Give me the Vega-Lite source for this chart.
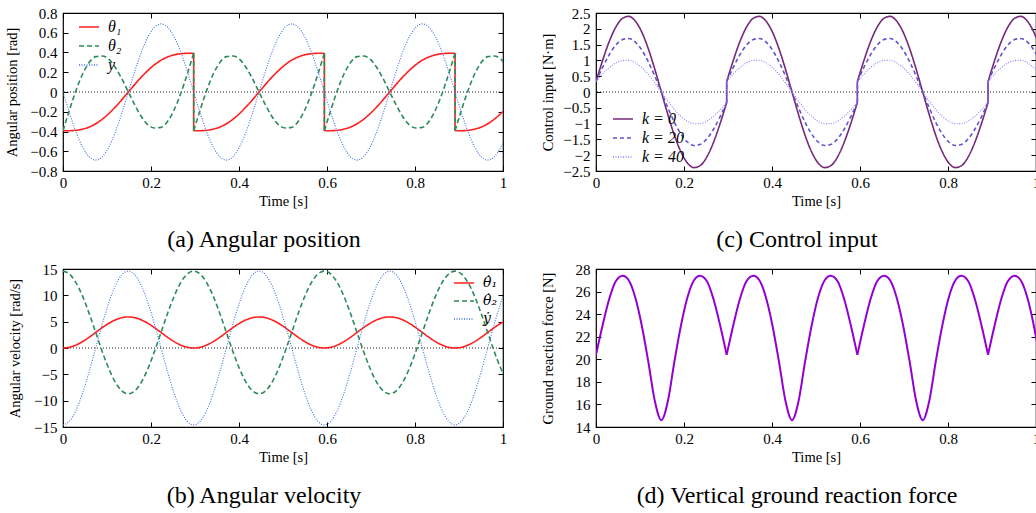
{
"$schema": "https://vega.github.io/schema/vega-lite/v6.json",
"padding": {"left": 3, "top": 5, "right": 0, "bottom": 0},
"background": "white",
"columns": 2,
"bounds": "flush",
"spacing": {"row": 98, "column": 93},
"resolve": {"scale": {"color": "independent", "strokeDash": "independent"}, "legend": {"color": "independent", "strokeDash": "independent"}},
"config": {
  "font": "Liberation Serif",
  "view": {"stroke": "black", "strokeWidth": 1.2},
  "axis": {"domain": false, "grid": false, "ticks": true, "tickSize": -5, "tickColor": "black", "tickWidth": 1,
           "labelFont": "Liberation Serif", "labelFontSize": 15, "labelColor": "black",
           "titleFont": "Liberation Serif", "titleFontSize": 14.5, "titleFontWeight": "normal", "titleColor": "black",
           "labelFlush": false, "labelOverlap": false},
  "axisX": {"labelPadding": 9, "titlePadding": 4},
  "axisY": {"labelPadding": 11, "titleBaseline": "middle"},
  "title": {"orient": "bottom", "font": "Liberation Serif", "fontSize": 24, "fontWeight": "normal", "color": "black", "offset": 20, "anchor": "middle", "dx": -19},
  "legend": {"title": null, "symbolType": "stroke", "symbolSize": 400, "symbolStrokeWidth": 1.5, "labelFont": "Liberation Serif", "labelFontSize": 16, "labelColor": "black", "labelOffset": 8, "rowPadding": 0, "padding": 0}
},
"datasets": {
"pa": [
{"t":0,"g":"p0","s1":-0.393,"s2":-0.393,"s3":0},
{"t":0.0149,"g":"p0","s1":-0.392,"s2":-0.179,"s3":-0.213},
{"t":0.0297,"g":"p0","s1":-0.388,"s2":0.018,"s3":-0.406},
{"t":0.0446,"g":"p0","s1":-0.376,"s2":0.182,"s3":-0.558},
{"t":0.0594,"g":"p0","s1":-0.355,"s2":0.298,"s3":-0.656},
{"t":0.0743,"g":"p0","s1":-0.322,"s2":0.358,"s3":-0.69},
{"t":0.0891,"g":"p0","s1":-0.276,"s2":0.364,"s3":-0.656},
{"t":0.104,"g":"p0","s1":-0.219,"s2":0.332,"s3":-0.558},
{"t":0.1188,"g":"p0","s1":-0.152,"s2":0.25,"s3":-0.406},
{"t":0.1337,"g":"p0","s1":-0.078,"s2":0.133,"s3":-0.213},
{"t":0.1485,"g":"p0","s1":0,"s2":0,"s3":0},
{"t":0.1634,"g":"p0","s1":0.078,"s2":-0.133,"s3":0.213},
{"t":0.1782,"g":"p0","s1":0.152,"s2":-0.25,"s3":0.406},
{"t":0.1931,"g":"p0","s1":0.219,"s2":-0.332,"s3":0.558},
{"t":0.2079,"g":"p0","s1":0.276,"s2":-0.364,"s3":0.656},
{"t":0.2228,"g":"p0","s1":0.322,"s2":-0.358,"s3":0.69},
{"t":0.2376,"g":"p0","s1":0.355,"s2":-0.298,"s3":0.656},
{"t":0.2525,"g":"p0","s1":0.376,"s2":-0.182,"s3":0.558},
{"t":0.2673,"g":"p0","s1":0.388,"s2":-0.018,"s3":0.406},
{"t":0.2822,"g":"p0","s1":0.392,"s2":0.179,"s3":0.213},
{"t":0.297,"g":"p0","s1":0.393,"s2":0.393,"s3":0},
{"t":0.297,"g":"j1","s1":0.393,"s2":0.393},
{"t":0.297,"g":"j1","s1":-0.393,"s2":-0.393},
{"t":0.297,"g":"p1","s1":-0.393,"s2":-0.393,"s3":0},
{"t":0.3119,"g":"p1","s1":-0.392,"s2":-0.179,"s3":-0.213},
{"t":0.3267,"g":"p1","s1":-0.388,"s2":0.018,"s3":-0.406},
{"t":0.3416,"g":"p1","s1":-0.376,"s2":0.182,"s3":-0.558},
{"t":0.3564,"g":"p1","s1":-0.355,"s2":0.298,"s3":-0.656},
{"t":0.3713,"g":"p1","s1":-0.322,"s2":0.358,"s3":-0.69},
{"t":0.3861,"g":"p1","s1":-0.276,"s2":0.364,"s3":-0.656},
{"t":0.401,"g":"p1","s1":-0.219,"s2":0.332,"s3":-0.558},
{"t":0.4158,"g":"p1","s1":-0.152,"s2":0.25,"s3":-0.406},
{"t":0.4307,"g":"p1","s1":-0.078,"s2":0.133,"s3":-0.213},
{"t":0.4455,"g":"p1","s1":0,"s2":0,"s3":0},
{"t":0.4604,"g":"p1","s1":0.078,"s2":-0.133,"s3":0.213},
{"t":0.4752,"g":"p1","s1":0.152,"s2":-0.25,"s3":0.406},
{"t":0.4901,"g":"p1","s1":0.219,"s2":-0.332,"s3":0.558},
{"t":0.5049,"g":"p1","s1":0.276,"s2":-0.364,"s3":0.656},
{"t":0.5198,"g":"p1","s1":0.322,"s2":-0.358,"s3":0.69},
{"t":0.5346,"g":"p1","s1":0.355,"s2":-0.298,"s3":0.656},
{"t":0.5495,"g":"p1","s1":0.376,"s2":-0.182,"s3":0.558},
{"t":0.5643,"g":"p1","s1":0.388,"s2":-0.018,"s3":0.406},
{"t":0.5792,"g":"p1","s1":0.392,"s2":0.179,"s3":0.213},
{"t":0.594,"g":"p1","s1":0.393,"s2":0.393,"s3":0},
{"t":0.594,"g":"j2","s1":0.393,"s2":0.393},
{"t":0.594,"g":"j2","s1":-0.393,"s2":-0.393},
{"t":0.594,"g":"p2","s1":-0.393,"s2":-0.393,"s3":0},
{"t":0.6089,"g":"p2","s1":-0.392,"s2":-0.179,"s3":-0.213},
{"t":0.6237,"g":"p2","s1":-0.388,"s2":0.018,"s3":-0.406},
{"t":0.6386,"g":"p2","s1":-0.376,"s2":0.182,"s3":-0.558},
{"t":0.6534,"g":"p2","s1":-0.355,"s2":0.298,"s3":-0.656},
{"t":0.6683,"g":"p2","s1":-0.322,"s2":0.358,"s3":-0.69},
{"t":0.6831,"g":"p2","s1":-0.276,"s2":0.364,"s3":-0.656},
{"t":0.698,"g":"p2","s1":-0.219,"s2":0.332,"s3":-0.558},
{"t":0.7128,"g":"p2","s1":-0.152,"s2":0.25,"s3":-0.406},
{"t":0.7277,"g":"p2","s1":-0.078,"s2":0.133,"s3":-0.213},
{"t":0.7425,"g":"p2","s1":0,"s2":0,"s3":0},
{"t":0.7574,"g":"p2","s1":0.078,"s2":-0.133,"s3":0.213},
{"t":0.7722,"g":"p2","s1":0.152,"s2":-0.25,"s3":0.406},
{"t":0.7871,"g":"p2","s1":0.219,"s2":-0.332,"s3":0.558},
{"t":0.8019,"g":"p2","s1":0.276,"s2":-0.364,"s3":0.656},
{"t":0.8168,"g":"p2","s1":0.322,"s2":-0.358,"s3":0.69},
{"t":0.8316,"g":"p2","s1":0.355,"s2":-0.298,"s3":0.656},
{"t":0.8465,"g":"p2","s1":0.376,"s2":-0.182,"s3":0.558},
{"t":0.8613,"g":"p2","s1":0.388,"s2":-0.018,"s3":0.406},
{"t":0.8762,"g":"p2","s1":0.392,"s2":0.179,"s3":0.213},
{"t":0.891,"g":"p2","s1":0.393,"s2":0.393,"s3":0},
{"t":0.891,"g":"j3","s1":0.393,"s2":0.393},
{"t":0.891,"g":"j3","s1":-0.393,"s2":-0.393},
{"t":0.891,"g":"p3","s1":-0.393,"s2":-0.393,"s3":0},
{"t":0.9059,"g":"p3","s1":-0.392,"s2":-0.179,"s3":-0.213},
{"t":0.9207,"g":"p3","s1":-0.388,"s2":0.018,"s3":-0.406},
{"t":0.9356,"g":"p3","s1":-0.376,"s2":0.182,"s3":-0.558},
{"t":0.9504,"g":"p3","s1":-0.355,"s2":0.298,"s3":-0.656},
{"t":0.9653,"g":"p3","s1":-0.322,"s2":0.358,"s3":-0.69},
{"t":0.9801,"g":"p3","s1":-0.276,"s2":0.364,"s3":-0.656},
{"t":0.995,"g":"p3","s1":-0.219,"s2":0.332,"s3":-0.558},
{"t":1.0098,"g":"p3","s1":-0.152,"s2":0.25,"s3":-0.406}
],
"pb": [
{"t":0,"s1":0,"s2":14.6,"s3":-14.6},
{"t":0.0149,"s1":0.144,"s2":14.03,"s3":-13.89},
{"t":0.0297,"s1":0.563,"s2":12.38,"s3":-11.81},
{"t":0.0446,"s1":1.216,"s2":9.8,"s3":-8.58},
{"t":0.0594,"s1":2.038,"s2":6.55,"s3":-4.51},
{"t":0.0743,"s1":2.95,"s2":2.95,"s3":0},
{"t":0.0891,"s1":3.862,"s2":-0.65,"s3":4.51},
{"t":0.104,"s1":4.684,"s2":-3.9,"s3":8.58},
{"t":0.1188,"s1":5.337,"s2":-6.48,"s3":11.81},
{"t":0.1337,"s1":5.756,"s2":-8.13,"s3":13.89},
{"t":0.1485,"s1":5.9,"s2":-8.7,"s3":14.6},
{"t":0.1634,"s1":5.756,"s2":-8.13,"s3":13.89},
{"t":0.1782,"s1":5.337,"s2":-6.48,"s3":11.81},
{"t":0.1931,"s1":4.684,"s2":-3.9,"s3":8.58},
{"t":0.2079,"s1":3.862,"s2":-0.65,"s3":4.51},
{"t":0.2228,"s1":2.95,"s2":2.95,"s3":0},
{"t":0.2376,"s1":2.038,"s2":6.55,"s3":-4.51},
{"t":0.2525,"s1":1.216,"s2":9.8,"s3":-8.58},
{"t":0.2673,"s1":0.563,"s2":12.38,"s3":-11.81},
{"t":0.2822,"s1":0.144,"s2":14.03,"s3":-13.89},
{"t":0.297,"s1":0,"s2":14.6,"s3":-14.6},
{"t":0.3119,"s1":0.144,"s2":14.03,"s3":-13.89},
{"t":0.3267,"s1":0.563,"s2":12.38,"s3":-11.81},
{"t":0.3416,"s1":1.216,"s2":9.8,"s3":-8.58},
{"t":0.3564,"s1":2.038,"s2":6.55,"s3":-4.51},
{"t":0.3713,"s1":2.95,"s2":2.95,"s3":0},
{"t":0.3861,"s1":3.862,"s2":-0.65,"s3":4.51},
{"t":0.401,"s1":4.684,"s2":-3.9,"s3":8.58},
{"t":0.4158,"s1":5.337,"s2":-6.48,"s3":11.81},
{"t":0.4307,"s1":5.756,"s2":-8.13,"s3":13.89},
{"t":0.4455,"s1":5.9,"s2":-8.7,"s3":14.6},
{"t":0.4604,"s1":5.756,"s2":-8.13,"s3":13.89},
{"t":0.4752,"s1":5.337,"s2":-6.48,"s3":11.81},
{"t":0.4901,"s1":4.684,"s2":-3.9,"s3":8.58},
{"t":0.5049,"s1":3.862,"s2":-0.65,"s3":4.51},
{"t":0.5198,"s1":2.95,"s2":2.95,"s3":0},
{"t":0.5346,"s1":2.038,"s2":6.55,"s3":-4.51},
{"t":0.5495,"s1":1.216,"s2":9.8,"s3":-8.58},
{"t":0.5643,"s1":0.563,"s2":12.38,"s3":-11.81},
{"t":0.5792,"s1":0.144,"s2":14.03,"s3":-13.89},
{"t":0.594,"s1":0,"s2":14.6,"s3":-14.6},
{"t":0.6089,"s1":0.144,"s2":14.03,"s3":-13.89},
{"t":0.6237,"s1":0.563,"s2":12.38,"s3":-11.81},
{"t":0.6386,"s1":1.216,"s2":9.8,"s3":-8.58},
{"t":0.6534,"s1":2.038,"s2":6.55,"s3":-4.51},
{"t":0.6683,"s1":2.95,"s2":2.95,"s3":0},
{"t":0.6831,"s1":3.862,"s2":-0.65,"s3":4.51},
{"t":0.698,"s1":4.684,"s2":-3.9,"s3":8.58},
{"t":0.7128,"s1":5.337,"s2":-6.48,"s3":11.81},
{"t":0.7277,"s1":5.756,"s2":-8.13,"s3":13.89},
{"t":0.7425,"s1":5.9,"s2":-8.7,"s3":14.6},
{"t":0.7574,"s1":5.756,"s2":-8.13,"s3":13.89},
{"t":0.7722,"s1":5.337,"s2":-6.48,"s3":11.81},
{"t":0.7871,"s1":4.684,"s2":-3.9,"s3":8.58},
{"t":0.8019,"s1":3.862,"s2":-0.65,"s3":4.51},
{"t":0.8168,"s1":2.95,"s2":2.95,"s3":0},
{"t":0.8316,"s1":2.038,"s2":6.55,"s3":-4.51},
{"t":0.8465,"s1":1.216,"s2":9.8,"s3":-8.58},
{"t":0.8613,"s1":0.563,"s2":12.38,"s3":-11.81},
{"t":0.8762,"s1":0.144,"s2":14.03,"s3":-13.89},
{"t":0.891,"s1":0,"s2":14.6,"s3":-14.6},
{"t":0.9059,"s1":0.144,"s2":14.03,"s3":-13.89},
{"t":0.9207,"s1":0.563,"s2":12.38,"s3":-11.81},
{"t":0.9356,"s1":1.216,"s2":9.8,"s3":-8.58},
{"t":0.9504,"s1":2.038,"s2":6.55,"s3":-4.51},
{"t":0.9653,"s1":2.95,"s2":2.95,"s3":0},
{"t":0.9801,"s1":3.862,"s2":-0.65,"s3":4.51},
{"t":0.995,"s1":4.684,"s2":-3.9,"s3":8.58},
{"t":1.0098,"s1":5.337,"s2":-6.48,"s3":11.81}
],
"pc": [
{"t":0,"g":"p0","s1":0.33,"s2":0.33,"s3":0.33},
{"t":0.0149,"g":"p0","s1":0.993,"s2":0.777,"s3":0.564},
{"t":0.0297,"g":"p0","s1":1.584,"s2":1.172,"s3":0.767},
{"t":0.0446,"g":"p0","s1":2.041,"s2":1.475,"s3":0.917},
{"t":0.0594,"g":"p0","s1":2.321,"s2":1.656,"s3":0.999},
{"t":0.0743,"g":"p0","s1":2.393,"s2":1.693,"s3":1.003},
{"t":0.0891,"g":"p0","s1":2.248,"s2":1.583,"s3":0.926},
{"t":0.104,"g":"p0","s1":1.897,"s2":1.331,"s3":0.773},
{"t":0.1188,"g":"p0","s1":1.372,"s2":0.96,"s3":0.555},
{"t":0.1337,"g":"p0","s1":0.719,"s2":0.503,"s3":0.29},
{"t":0.1485,"g":"p0","s1":0,"s2":0,"s3":0},
{"t":0.1634,"g":"p0","s1":-0.719,"s2":-0.503,"s3":-0.29},
{"t":0.1782,"g":"p0","s1":-1.372,"s2":-0.96,"s3":-0.555},
{"t":0.1931,"g":"p0","s1":-1.897,"s2":-1.331,"s3":-0.773},
{"t":0.2079,"g":"p0","s1":-2.248,"s2":-1.583,"s3":-0.926},
{"t":0.2228,"g":"p0","s1":-2.393,"s2":-1.693,"s3":-1.003},
{"t":0.2376,"g":"p0","s1":-2.321,"s2":-1.656,"s3":-0.999},
{"t":0.2525,"g":"p0","s1":-2.041,"s2":-1.475,"s3":-0.917},
{"t":0.2673,"g":"p0","s1":-1.584,"s2":-1.172,"s3":-0.767},
{"t":0.2822,"g":"p0","s1":-0.993,"s2":-0.777,"s3":-0.564},
{"t":0.297,"g":"p0","s1":-0.33,"s2":-0.33,"s3":-0.33},
{"t":0.297,"g":"j1","s1":-0.33,"s2":-0.33,"s3":-0.33},
{"t":0.297,"g":"j1","s1":0.33,"s2":0.33,"s3":0.33},
{"t":0.297,"g":"p1","s1":0.33,"s2":0.33,"s3":0.33},
{"t":0.3119,"g":"p1","s1":0.993,"s2":0.777,"s3":0.564},
{"t":0.3267,"g":"p1","s1":1.584,"s2":1.172,"s3":0.767},
{"t":0.3416,"g":"p1","s1":2.041,"s2":1.475,"s3":0.917},
{"t":0.3564,"g":"p1","s1":2.321,"s2":1.656,"s3":0.999},
{"t":0.3713,"g":"p1","s1":2.393,"s2":1.693,"s3":1.003},
{"t":0.3861,"g":"p1","s1":2.248,"s2":1.583,"s3":0.926},
{"t":0.401,"g":"p1","s1":1.897,"s2":1.331,"s3":0.773},
{"t":0.4158,"g":"p1","s1":1.372,"s2":0.96,"s3":0.555},
{"t":0.4307,"g":"p1","s1":0.719,"s2":0.503,"s3":0.29},
{"t":0.4455,"g":"p1","s1":0,"s2":0,"s3":0},
{"t":0.4604,"g":"p1","s1":-0.719,"s2":-0.503,"s3":-0.29},
{"t":0.4752,"g":"p1","s1":-1.372,"s2":-0.96,"s3":-0.555},
{"t":0.4901,"g":"p1","s1":-1.897,"s2":-1.331,"s3":-0.773},
{"t":0.5049,"g":"p1","s1":-2.248,"s2":-1.583,"s3":-0.926},
{"t":0.5198,"g":"p1","s1":-2.393,"s2":-1.693,"s3":-1.003},
{"t":0.5346,"g":"p1","s1":-2.321,"s2":-1.656,"s3":-0.999},
{"t":0.5495,"g":"p1","s1":-2.041,"s2":-1.475,"s3":-0.917},
{"t":0.5643,"g":"p1","s1":-1.584,"s2":-1.172,"s3":-0.767},
{"t":0.5792,"g":"p1","s1":-0.993,"s2":-0.777,"s3":-0.564},
{"t":0.594,"g":"p1","s1":-0.33,"s2":-0.33,"s3":-0.33},
{"t":0.594,"g":"j2","s1":-0.33,"s2":-0.33,"s3":-0.33},
{"t":0.594,"g":"j2","s1":0.33,"s2":0.33,"s3":0.33},
{"t":0.594,"g":"p2","s1":0.33,"s2":0.33,"s3":0.33},
{"t":0.6089,"g":"p2","s1":0.993,"s2":0.777,"s3":0.564},
{"t":0.6237,"g":"p2","s1":1.584,"s2":1.172,"s3":0.767},
{"t":0.6386,"g":"p2","s1":2.041,"s2":1.475,"s3":0.917},
{"t":0.6534,"g":"p2","s1":2.321,"s2":1.656,"s3":0.999},
{"t":0.6683,"g":"p2","s1":2.393,"s2":1.693,"s3":1.003},
{"t":0.6831,"g":"p2","s1":2.248,"s2":1.583,"s3":0.926},
{"t":0.698,"g":"p2","s1":1.897,"s2":1.331,"s3":0.773},
{"t":0.7128,"g":"p2","s1":1.372,"s2":0.96,"s3":0.555},
{"t":0.7277,"g":"p2","s1":0.719,"s2":0.503,"s3":0.29},
{"t":0.7425,"g":"p2","s1":0,"s2":0,"s3":0},
{"t":0.7574,"g":"p2","s1":-0.719,"s2":-0.503,"s3":-0.29},
{"t":0.7722,"g":"p2","s1":-1.372,"s2":-0.96,"s3":-0.555},
{"t":0.7871,"g":"p2","s1":-1.897,"s2":-1.331,"s3":-0.773},
{"t":0.8019,"g":"p2","s1":-2.248,"s2":-1.583,"s3":-0.926},
{"t":0.8168,"g":"p2","s1":-2.393,"s2":-1.693,"s3":-1.003},
{"t":0.8316,"g":"p2","s1":-2.321,"s2":-1.656,"s3":-0.999},
{"t":0.8465,"g":"p2","s1":-2.041,"s2":-1.475,"s3":-0.917},
{"t":0.8613,"g":"p2","s1":-1.584,"s2":-1.172,"s3":-0.767},
{"t":0.8762,"g":"p2","s1":-0.993,"s2":-0.777,"s3":-0.564},
{"t":0.891,"g":"p2","s1":-0.33,"s2":-0.33,"s3":-0.33},
{"t":0.891,"g":"j3","s1":-0.33,"s2":-0.33,"s3":-0.33},
{"t":0.891,"g":"j3","s1":0.33,"s2":0.33,"s3":0.33},
{"t":0.891,"g":"p3","s1":0.33,"s2":0.33,"s3":0.33},
{"t":0.9059,"g":"p3","s1":0.993,"s2":0.777,"s3":0.564},
{"t":0.9207,"g":"p3","s1":1.584,"s2":1.172,"s3":0.767},
{"t":0.9356,"g":"p3","s1":2.041,"s2":1.475,"s3":0.917},
{"t":0.9504,"g":"p3","s1":2.321,"s2":1.656,"s3":0.999},
{"t":0.9653,"g":"p3","s1":2.393,"s2":1.693,"s3":1.003},
{"t":0.9801,"g":"p3","s1":2.248,"s2":1.583,"s3":0.926},
{"t":0.995,"g":"p3","s1":1.897,"s2":1.331,"s3":0.773},
{"t":1.0098,"g":"p3","s1":1.372,"s2":0.96,"s3":0.555}
],
"pd": [
{"t":0,"g":"p0","f":20.4},{"t":0.0149,"g":"p0","f":23.0},{"t":0.0297,"g":"p0","f":25.3},{"t":0.0446,"g":"p0","f":26.9},{"t":0.0609,"g":"p0","f":27.4},{"t":0.0743,"g":"p0","f":27.0},{"t":0.0891,"g":"p0","f":25.5},{"t":0.104,"g":"p0","f":23.0},{"t":0.1188,"g":"p0","f":19.8},{"t":0.1337,"g":"p0","f":16.3},{"t":0.1485,"g":"p0","f":14.6},{"t":0.1634,"g":"p0","f":16.3},{"t":0.1782,"g":"p0","f":19.8},{"t":0.1931,"g":"p0","f":23.0},{"t":0.2079,"g":"p0","f":25.5},{"t":0.2228,"g":"p0","f":27.0},{"t":0.2361,"g":"p0","f":27.4},{"t":0.2525,"g":"p0","f":26.9},{"t":0.2673,"g":"p0","f":25.3},{"t":0.2822,"g":"p0","f":23.0},{"t":0.297,"g":"p0","f":20.4},
{"t":0.297,"g":"p1","f":20.4},{"t":0.3119,"g":"p1","f":23.0},{"t":0.3267,"g":"p1","f":25.3},{"t":0.3416,"g":"p1","f":26.9},{"t":0.3579,"g":"p1","f":27.4},{"t":0.3713,"g":"p1","f":27.0},{"t":0.3861,"g":"p1","f":25.5},{"t":0.401,"g":"p1","f":23.0},{"t":0.4158,"g":"p1","f":19.8},{"t":0.4307,"g":"p1","f":16.3},{"t":0.4455,"g":"p1","f":14.6},{"t":0.4604,"g":"p1","f":16.3},{"t":0.4752,"g":"p1","f":19.8},{"t":0.4901,"g":"p1","f":23.0},{"t":0.5049,"g":"p1","f":25.5},{"t":0.5198,"g":"p1","f":27.0},{"t":0.5331,"g":"p1","f":27.4},{"t":0.5495,"g":"p1","f":26.9},{"t":0.5643,"g":"p1","f":25.3},{"t":0.5792,"g":"p1","f":23.0},{"t":0.594,"g":"p1","f":20.4},
{"t":0.594,"g":"p2","f":20.4},{"t":0.6089,"g":"p2","f":23.0},{"t":0.6237,"g":"p2","f":25.3},{"t":0.6386,"g":"p2","f":26.9},{"t":0.6549,"g":"p2","f":27.4},{"t":0.6683,"g":"p2","f":27.0},{"t":0.6831,"g":"p2","f":25.5},{"t":0.698,"g":"p2","f":23.0},{"t":0.7128,"g":"p2","f":19.8},{"t":0.7277,"g":"p2","f":16.3},{"t":0.7425,"g":"p2","f":14.6},{"t":0.7574,"g":"p2","f":16.3},{"t":0.7722,"g":"p2","f":19.8},{"t":0.7871,"g":"p2","f":23.0},{"t":0.8019,"g":"p2","f":25.5},{"t":0.8168,"g":"p2","f":27.0},{"t":0.8301,"g":"p2","f":27.4},{"t":0.8465,"g":"p2","f":26.9},{"t":0.8613,"g":"p2","f":25.3},{"t":0.8762,"g":"p2","f":23.0},{"t":0.891,"g":"p2","f":20.4},
{"t":0.891,"g":"p3","f":20.4},{"t":0.9059,"g":"p3","f":23.0},{"t":0.9207,"g":"p3","f":25.3},{"t":0.9356,"g":"p3","f":26.9},{"t":0.9519,"g":"p3","f":27.4},{"t":0.9653,"g":"p3","f":27.0},{"t":0.9801,"g":"p3","f":25.5},{"t":0.995,"g":"p3","f":23.0},{"t":1.0098,"g":"p3","f":19.8}
]
},
"concat": [
{
 "width": 440, "height": 158,
 "title": {"text": "(a) Angular position"},
 "layer": [
  {"data": {"values": [{}]}, "mark": {"type": "rule", "color": "black", "strokeDash": [1, 2], "strokeWidth": 0.9},
   "encoding": {"y": {"datum": 0, "type": "quantitative", "axis": null}}},
  {"data": {"name": "pa"},
   "transform": [{"fold": ["s1", "s2", "s3"], "as": ["s", "v"]}, {"filter": "isValid(datum.v)"}],
   "mark": {"type": "line", "interpolate": "monotone", "clip": true},
   "encoding": {
    "x": {"field": "t", "type": "quantitative", "scale": {"domain": [0, 1], "nice": false, "zero": false},
          "axis": {"orient": "bottom", "values": [0, 0.2, 0.4, 0.6, 0.8, 1], "format": "~g", "title": "Time [s]"}},
    "y": {"field": "v", "type": "quantitative", "scale": {"domain": [-0.8, 0.8], "nice": false},
          "axis": {"orient": "left", "values": [-0.8, -0.6, -0.4, -0.2, 0, 0.2, 0.4, 0.6, 0.8], "format": "~g", "title": "Angular position [rad]", "titleX": -51}},
    "detail": {"field": "g"},
    "color": {"field": "s", "type": "nominal", "scale": {"domain": ["s1", "s2", "s3"], "range": ["#ff1f1f", "#2e8b57", "#3f6fe6"]},
              "legend": {"orient": "none", "legendX": 15, "legendY": 3, "labelFontStyle": "italic", "labelExpr": "datum.label == 's1' ? 'θ₁' : datum.label == 's2' ? 'θ₂' : 'y'"}},
    "strokeDash": {"field": "s", "type": "nominal", "scale": {"domain": ["s1", "s2", "s3"], "range": [[1, 0], [5, 3], [1, 1.5]]},
              "legend": {"orient": "none", "legendX": 15, "legendY": 3, "labelFontStyle": "italic", "labelExpr": "datum.label == 's1' ? 'θ₁' : datum.label == 's2' ? 'θ₂' : 'y'"}},
    "strokeWidth": {"condition": {"test": "datum.s == 's3'", "value": 1.1}, "value": 1.6}
   }},
  {"data": {"values": [{}]}, "mark": {"type": "point", "opacity": 0},
   "encoding": {
    "x": {"datum": 0, "type": "quantitative", "axis": {"orient": "top", "labels": false, "title": null, "values": [0, 0.2, 0.4, 0.6, 0.8, 1]}},
    "y": {"datum": 0, "type": "quantitative", "axis": {"orient": "right", "labels": false, "title": null, "values": [-0.8, -0.6, -0.4, -0.2, 0, 0.2, 0.4, 0.6, 0.8]}}
   }}
 ],
 "resolve": {"axis": {"x": "independent", "y": "independent"}}
},
{
 "width": 440, "height": 158,
 "title": {"text": "(c) Control input"},
 "layer": [
  {"data": {"values": [{}]}, "mark": {"type": "rule", "color": "black", "strokeDash": [1, 2], "strokeWidth": 0.9},
   "encoding": {"y": {"datum": 0, "type": "quantitative", "axis": null}}},
  {"data": {"name": "pc"},
   "transform": [{"fold": ["s1", "s2", "s3"], "as": ["s", "v"]}, {"filter": "isValid(datum.v)"}],
   "mark": {"type": "line", "interpolate": "monotone", "clip": true},
   "encoding": {
    "x": {"field": "t", "type": "quantitative", "scale": {"domain": [0, 1], "nice": false, "zero": false},
          "axis": {"orient": "bottom", "values": [0, 0.2, 0.4, 0.6, 0.8, 1], "format": "~g", "title": "Time [s]"}},
    "y": {"field": "v", "type": "quantitative", "scale": {"domain": [-2.5, 2.5], "nice": false},
          "axis": {"orient": "left", "values": [-2.5, -2, -1.5, -1, -0.5, 0, 0.5, 1, 1.5, 2, 2.5], "format": "~g", "title": "Control input [N·m]", "titleX": -48}},
    "detail": {"field": "g"},
    "color": {"field": "s", "type": "nominal", "scale": {"domain": ["s1", "s2", "s3"], "range": ["#76287a", "#6652cc", "#8a80ff"]},
              "legend": {"orient": "none", "legendX": 16, "legendY": 95, "labelFontStyle": "italic", "labelExpr": "datum.label == 's1' ? 'k = 0' : datum.label == 's2' ? 'k = 20' : 'k = 40'"}},
    "strokeDash": {"field": "s", "type": "nominal", "scale": {"domain": ["s1", "s2", "s3"], "range": [[1, 0], [4, 3], [1, 1.5]]},
              "legend": {"orient": "none", "legendX": 16, "legendY": 95, "labelFontStyle": "italic", "labelExpr": "datum.label == 's1' ? 'k = 0' : datum.label == 's2' ? 'k = 20' : 'k = 40'"}},
    "strokeWidth": {"condition": {"test": "datum.s == 's3'", "value": 1.1}, "value": 1.6}
   }},
  {"data": {"values": [{}]}, "mark": {"type": "point", "opacity": 0},
   "encoding": {
    "x": {"datum": 0, "type": "quantitative", "axis": {"orient": "top", "labels": false, "title": null, "values": [0, 0.2, 0.4, 0.6, 0.8, 1]}},
    "y": {"datum": 0, "type": "quantitative", "axis": {"orient": "right", "labels": false, "title": null, "values": [-2.5, -2, -1.5, -1, -0.5, 0, 0.5, 1, 1.5, 2, 2.5]}}
   }}
 ],
 "resolve": {"axis": {"x": "independent", "y": "independent"}}
},
{
 "width": 440, "height": 158,
 "title": {"text": "(b) Angular velocity"},
 "layer": [
  {"data": {"values": [{}]}, "mark": {"type": "rule", "color": "black", "strokeDash": [1, 2], "strokeWidth": 0.9},
   "encoding": {"y": {"datum": 0, "type": "quantitative", "axis": null}}},
  {"data": {"name": "pb"},
   "transform": [{"fold": ["s1", "s2", "s3"], "as": ["s", "v"]}, {"filter": "isValid(datum.v)"}],
   "mark": {"type": "line", "interpolate": "monotone", "clip": true},
   "encoding": {
    "x": {"field": "t", "type": "quantitative", "scale": {"domain": [0, 1], "nice": false, "zero": false},
          "axis": {"orient": "bottom", "values": [0, 0.2, 0.4, 0.6, 0.8, 1], "format": "~g", "title": "Time [s]"}},
    "y": {"field": "v", "type": "quantitative", "scale": {"domain": [-15, 15], "nice": false},
          "axis": {"orient": "left", "values": [-15, -10, -5, 0, 5, 10, 15], "format": "~g", "title": "Angular velocity [rad/s]", "titleX": -48}},
    "color": {"field": "s", "type": "nominal", "scale": {"domain": ["s1", "s2", "s3"], "range": ["#ff1f1f", "#2e8b57", "#3f6fe6"]},
              "legend": {"orient": "none", "legendX": 390, "legendY": 3, "labelFont": "DejaVu Serif", "labelFontSize": 14, "labelFontStyle": "italic", "labelExpr": "datum.label == 's1' ? '\u03b8\u0307\u2081' : datum.label == 's2' ? '\u03b8\u0307\u2082' : '\u1e8f'"}},
    "strokeDash": {"field": "s", "type": "nominal", "scale": {"domain": ["s1", "s2", "s3"], "range": [[1, 0], [5, 3], [1, 1.5]]},
              "legend": {"orient": "none", "legendX": 390, "legendY": 3, "labelFont": "DejaVu Serif", "labelFontSize": 14, "labelFontStyle": "italic", "labelExpr": "datum.label == 's1' ? '\u03b8\u0307\u2081' : datum.label == 's2' ? '\u03b8\u0307\u2082' : '\u1e8f'"}},
    "strokeWidth": {"condition": {"test": "datum.s == 's3'", "value": 1.1}, "value": 1.6}
   }},
  {"data": {"values": [{}]}, "mark": {"type": "point", "opacity": 0},
   "encoding": {
    "x": {"datum": 0, "type": "quantitative", "axis": {"orient": "top", "labels": false, "title": null, "values": [0, 0.2, 0.4, 0.6, 0.8, 1]}},
    "y": {"datum": 0, "type": "quantitative", "axis": {"orient": "right", "labels": false, "title": null, "values": [-15, -10, -5, 0, 5, 10, 15]}}
   }}
 ],
 "resolve": {"axis": {"x": "independent", "y": "independent"}}
},
{
 "width": 440, "height": 158,
 "title": {"text": "(d) Vertical ground reaction force"},
 "layer": [
  {"data": {"name": "pd"},
   "mark": {"type": "line", "interpolate": "monotone", "clip": true, "color": "#9400d3", "strokeWidth": 2},
   "encoding": {
    "x": {"field": "t", "type": "quantitative", "scale": {"domain": [0, 1], "nice": false, "zero": false},
          "axis": {"orient": "bottom", "values": [0, 0.2, 0.4, 0.6, 0.8, 1], "format": "~g", "title": "Time [s]"}},
    "y": {"field": "f", "type": "quantitative", "scale": {"domain": [14, 28], "nice": false, "zero": false},
          "axis": {"orient": "left", "values": [14, 16, 18, 20, 22, 24, 26, 28], "format": "~g", "title": "Ground reaction force [N]", "titleX": -48}},
    "detail": {"field": "g"}
   }},
  {"data": {"values": [{}]}, "mark": {"type": "point", "opacity": 0},
   "encoding": {
    "x": {"datum": 0, "type": "quantitative", "axis": {"orient": "top", "labels": false, "title": null, "values": [0, 0.2, 0.4, 0.6, 0.8, 1]}},
    "y": {"datum": 20, "type": "quantitative", "axis": {"orient": "right", "labels": false, "title": null, "values": [14, 16, 18, 20, 22, 24, 26, 28]}}
   }}
 ],
 "resolve": {"axis": {"x": "independent", "y": "independent"}}
}
]
}
